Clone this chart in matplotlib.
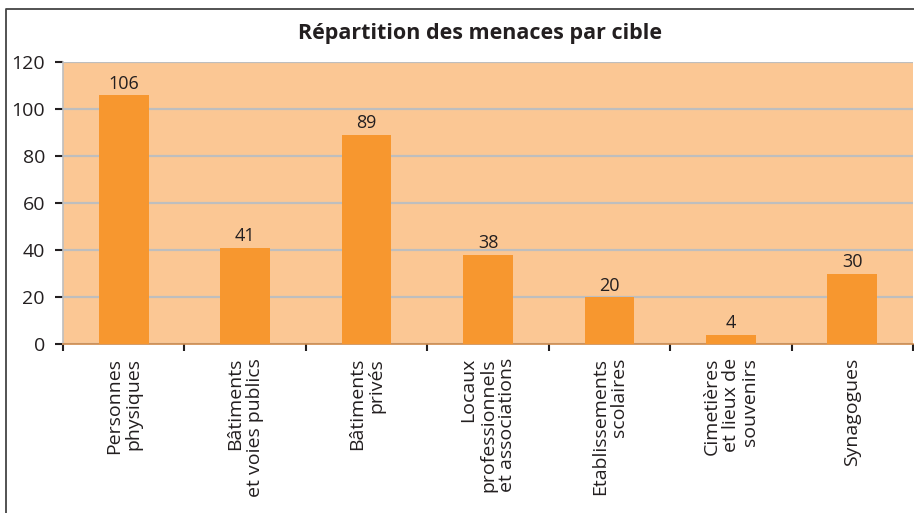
import matplotlib.pyplot as plt
from matplotlib.lines import Line2D
from matplotlib.ticker import FixedLocator

plt.rcParams['font.family'] = ['Open Sans', 'DejaVu Sans']

categories = ['Personnes\nphysiques', 'Bâtiments\net voies publics', 'Bâtiments\nprivés',
              'Locaux\nprofessionnels\net associations', 'Etablissements\nscolaires',
              'Cimetières\net lieux de\nsouvenirs', 'Synagogues']
values = [106, 41, 89, 38, 20, 4, 30]
y_ticks = [0, 20, 40, 60, 80, 100, 120]

bar_color = '#F7972F'
bg_color = '#FBC794'
text_color = '#231F20'

fig = plt.figure(figsize=(9.14, 5.13), dpi=100)
ax = fig.add_axes([63 / 914, 1 - 344 / 513, 850 / 914, 282 / 513])
ax.set_facecolor(bg_color)

x = list(range(len(categories)))
ax.bar(x, values, width=0.41, color=bar_color, zorder=3)
for xi, v in zip(x, values):
    ax.text(xi, v + 1.0, str(v), ha='center', va='bottom', fontsize=13, color=text_color, zorder=4)

ax.set_xlim(-0.5, len(categories) - 0.5)
ax.set_ylim(0, 120)
ax.set_yticks(y_ticks)
ax.yaxis.grid(True, color='#BEBEBE', linewidth=1.6, zorder=1)
ax.set_axisbelow(True)

ax.set_xticks(x)
ax.set_xticklabels(categories, rotation=90, ha='center', va='top', multialignment='right',
                   fontsize=14, color=text_color, linespacing=1.1)
ax.tick_params(axis='x', which='major', length=0, pad=10)
ax.xaxis.set_minor_locator(FixedLocator([i - 0.5 for i in range(len(categories) + 1)]))
ax.tick_params(axis='x', which='minor', length=5, width=1.5, color=text_color)
ax.tick_params(axis='y', length=6, width=1.5, color=text_color, labelsize=14,
               labelcolor=text_color, pad=7)

for side in ['top', 'right']:
    ax.spines[side].set_visible(False)
ax.spines['left'].set_color('#BEBEBE')
ax.spines['left'].set_linewidth(1.2)
ax.spines['bottom'].set_color('#D08A4A')
ax.spines['bottom'].set_linewidth(1.2)

fig.text(480 / 914, 1 - 33 / 513, 'Répartition des menaces par cible', ha='center', va='center',
         fontsize=15.5, fontweight='bold', color=text_color)

# outer frame: only top and left edges fall inside the picture
fig.lines.append(Line2D([6 / 914, 6 / 914, 1], [0, 1 - 9 / 513, 1 - 9 / 513],
                        transform=fig.transFigure, color='#444444', linewidth=1.3))

fig.savefig('out.png', dpi=100)
